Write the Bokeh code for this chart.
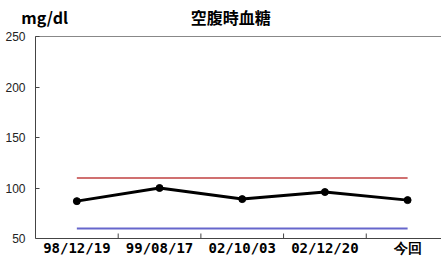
from bokeh.plotting import figure
from bokeh.models import Range1d, FixedTicker, LinearAxis, Span
from bokeh.core.properties import value
from bokeh.embed import file_html
from bokeh.resources import INLINE

dates = ["98/12/19", "99/08/17", "02/10/03", "02/12/20", "今回"]
glucose = [87, 100, 89, 96, 88]
upper_limit = 110
lower_limit = 60
y_ticks = [50, 100, 150, 200, 250]
title_text = "空腹時血糖"
unit_text = "mg/dl"
# header text anchor positions (in category units)
title_pos = 2.36
unit_pos = 0.11

n = len(dates)
xs = [i + 0.5 for i in range(n)]
bounds = [i for i in range(1, n)]
y_min, y_max = y_ticks[0], y_ticks[-1]

# layout in pixels
W, H = 441, 256
top_px = 36          # frame top (value 250)
base_px = 238        # value 50
px_per_unit = (base_px - top_px) / (y_max - y_min)
y_start = y_min - (H - base_px) / px_per_unit

p = figure(width=W, height=H, output_backend="svg", toolbar_location=None,
           x_axis_location=None,
           x_range=Range1d(0, 4.91), y_range=Range1d(y_start, y_max),
           min_border_left=35, min_border_right=0, min_border_top=top_px,
           min_border_bottom=0)
p.background_fill_color = "white"
p.border_fill_color = "white"
p.outline_line_color = None
p.xgrid.visible = False
p.ygrid.visible = False

# reference lines
p.line([xs[0], xs[-1]], [upper_limit, upper_limit], line_color="#d07070", line_width=2)
p.line([xs[0], xs[-1]], [lower_limit, lower_limit], line_color="#6666cc", line_width=2)

# data
p.line(xs, glucose, line_color="black", line_width=3)
p.scatter(xs, glucose, size=7, color="black")

# y axis
ya = p.yaxis[0]
ya.ticker = FixedTicker(ticks=y_ticks)
ya.bounds = (y_min, y_max)
ya.major_tick_in = 4
ya.major_tick_out = 0
ya.minor_tick_line_color = None
ya.axis_line_color = "#444444"
ya.major_tick_line_color = "#444444"
ya.major_label_text_font = "Liberation Sans"
ya.major_label_text_font_size = "12px"
ya.major_label_text_color = "#222222"
ya.major_label_standoff = 10

# category axis at the base value: line, boundary ticks, labels
p.add_layout(Span(location=y_min, dimension="width", line_color="#444444", line_width=1))
tick_len = 5 / px_per_unit
p.segment(x0=bounds, y0=[y_min] * len(bounds), x1=bounds,
          y1=[y_min + tick_len] * len(bounds), line_color="#444444", line_width=1)
p.text(x=xs, y=[y_start] * n, text=dates, y_offset=-1,
       text_align="center", text_baseline="bottom",
       text_font=value("DejaVu Sans Mono"), text_font_style="bold",
       text_font_size="14px", text_color="black")

# top axis: frame top edge + header texts
top = LinearAxis(ticker=FixedTicker(ticks=[unit_pos, title_pos]))
top.major_label_overrides = {unit_pos: unit_text, title_pos: title_text}
top.axis_line_color = "#888888"
top.major_tick_line_color = None
top.minor_tick_line_color = None
top.major_label_text_font = "Noto Sans CJK JP"
top.major_label_text_font_style = "bold"
top.major_label_text_font_size = "16px"
top.major_label_text_color = "black"
top.major_label_standoff = 2
p.add_layout(top, "above")

open("out.html", "w").write(file_html(p, INLINE))
